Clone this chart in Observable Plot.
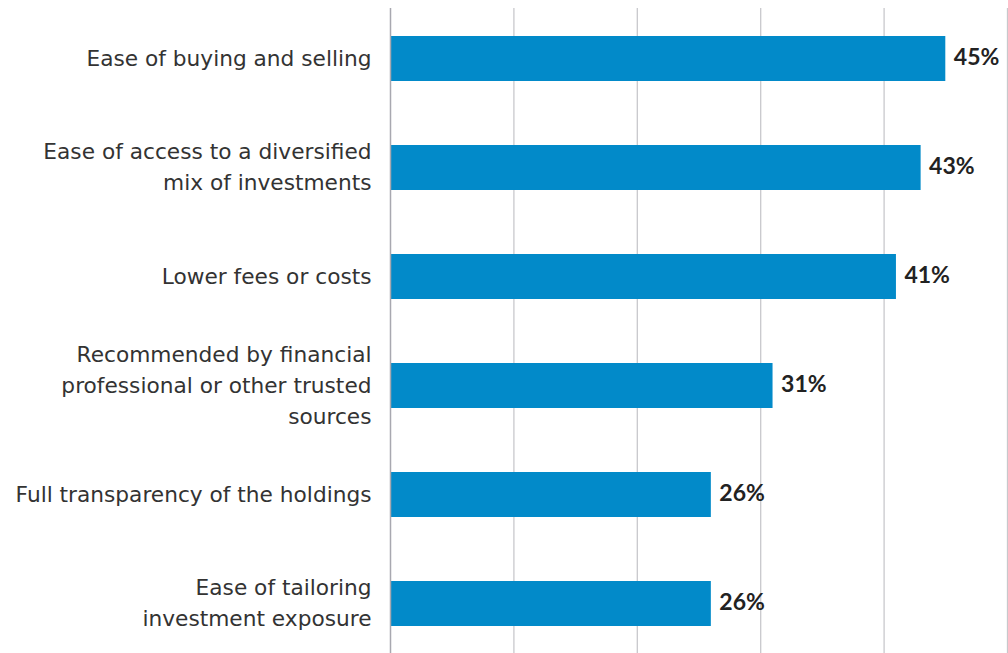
<!DOCTYPE html>
<html>
<head>
<meta charset="utf-8">
<script src="https://cdn.jsdelivr.net/npm/d3@7"></script>
<script src="https://cdn.jsdelivr.net/npm/@observablehq/plot@0.6"></script>
<style>
  html, body { margin: 0; padding: 0; background: #fff; }
  #chart svg { display: block; }
</style>
</head>
<body>
<div id="chart"></div>
<script>
const categories = [
  "Ease of buying and selling",
  "Ease of access to a diversified\nmix of investments",
  "Lower fees or costs",
  "Recommended by financial\nprofessional or other trusted\nsources",
  "Full transparency of the holdings",
  "Ease of tailoring\ninvestment exposure"
];
const values = [45, 43, 41, 31, 26, 26];
const gridTicks = [0, 10, 20, 30, 40, 50];

const data = categories.map((c, i) => ({category: c, value: values[i]}));

const chart = Plot.plot({
  width: 1008,
  height: 653,
  marginLeft: 390,
  marginRight: 1,
  marginTop: 8,
  marginBottom: 0,
  style: {fontFamily: "Lato, 'Open Sans', sans-serif", background: "#fff"},
  x: {domain: [0, 50], axis: null},
  y: {domain: categories, range: [2.3, 658.7], paddingInner: 0.59, paddingOuter: 0.295, axis: null},
  marks: [
    Plot.ruleX(gridTicks.filter(d => d > 0), {stroke: "#c8c8cc", strokeWidth: 1.3}),
    Plot.barX(data, {y: "category", x: "value", fill: "#028ac9"}),
    Plot.ruleX([0], {stroke: "#a8a8b0", strokeWidth: 1.5}),
    Plot.text(data, {
      y: "category", x: "value", text: d => d.value + "%",
      textAnchor: "start", dx: 8, dy: -1, fontSize: 23, fontWeight: "bold", fill: "#222"
    }),
    Plot.text(data, {
      y: "category", x: 0, text: "category",
      textAnchor: "end", dx: -19, dy: -3, fontSize: 21.7, lineHeight: 1.43, fill: "#333",
      fontFamily: "'DejaVu Sans', sans-serif"
    })
  ]
});
document.getElementById("chart").appendChild(chart);
</script>
</body>
</html>
